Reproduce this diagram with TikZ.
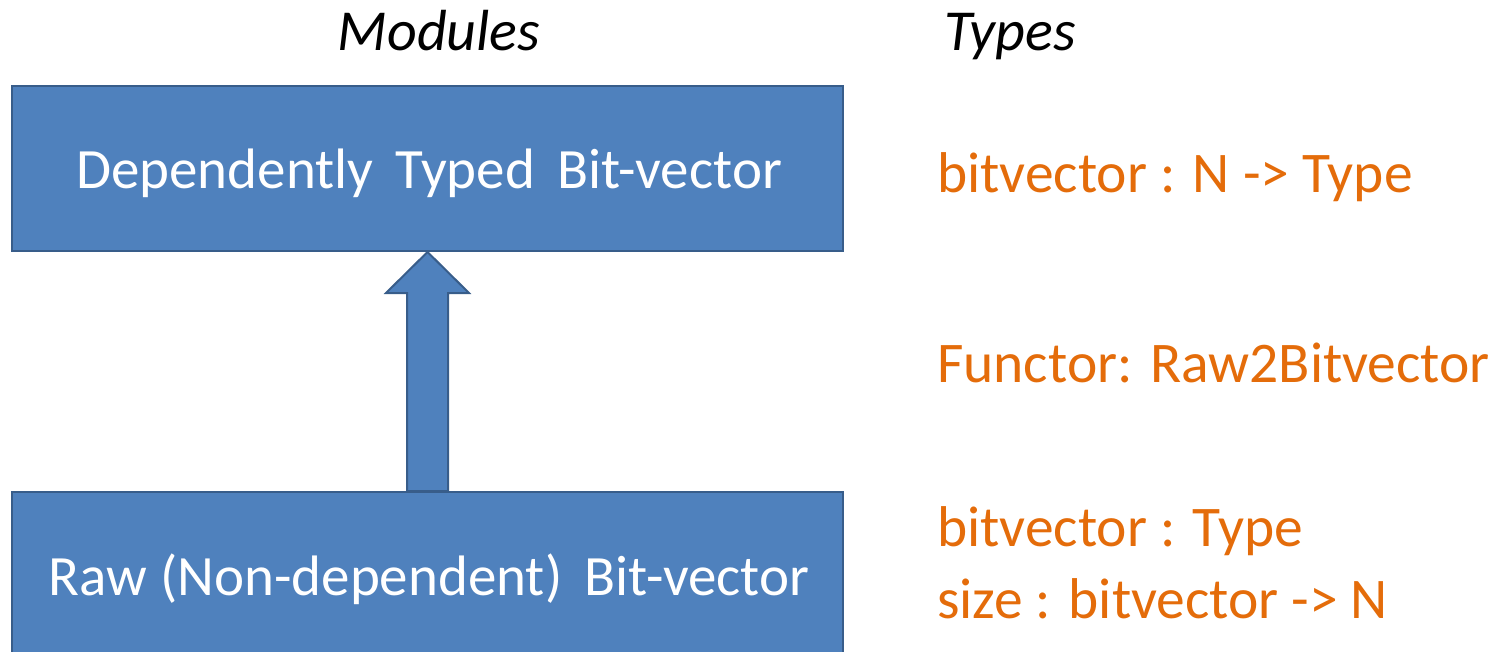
\documentclass[tikz,border=0pt]{standalone}
\usepackage{fontspec}
\setmainfont{Carlito}
\usetikzlibrary{calc}
\definecolor{boxfill}{HTML}{4F81BD}
\definecolor{boxline}{HTML}{385D8A}
\definecolor{typeorange}{HTML}{E46C0A}
\tikzset{
  module/.style={draw=boxline, line width=2pt, fill=boxfill, minimum width=831pt,
    minimum height=165pt, inner sep=0pt},
  boxtext/.style={anchor=base, inner sep=0pt, text=white,
    font=\fontsize{57}{68}\selectfont},
  heading/.style={anchor=base, inner sep=0pt, font=\fontsize{58}{69}\selectfont\itshape},
  typetext/.style={anchor=base west, inner sep=0pt, text=typeorange,
    font=\fontsize{57.5}{69}\selectfont},
  blockarrow/.style={draw=boxline, line width=2pt, fill=boxfill, line join=miter}
}
\begin{document}
\begin{tikzpicture}[x=1pt, y=-1pt]
\useasboundingbox (0,0) rectangle (1501,652);
\clip (0,0) rectangle (1501,652);

% column headings
\node[heading] (hmod) at (439,51) {Modules};
\node[heading] (htyp) at (1010,51) {Types};

% the two module boxes
\node[module] (dep) at (427.5,168.5) {};
\node[boxtext] (deptext) at (429,189) {Dependently\, Typed\, Bit-vector};
\node[module] (raw) at (427.5,574.5) {};
\node[boxtext] (rawtext) at (429,595) {Raw (Non-dependent)\, Bit-vector};

% block arrow from the raw module up to the dependent one
\coordinate (tip) at (dep.south);
\coordinate (foot) at (raw.north);
\path[blockarrow]
  ($(foot)+(-20.5,0)$) -- ($(tip)+(-20.5,41)$) -- ($(tip)+(-41.5,41)$) --
  (tip) -- ($(tip)+(41.5,41)$) -- ($(tip)+(20.5,41)$) -- ($(foot)+(20.5,0)$) -- cycle;

% types of each module and of the functor
\node[typetext] (t1) at (937,193) {bitvector : N -> Type};
\node[typetext] (t2) at (937,382) {Functor: Raw2Bitvector};
\node[typetext] (t3) at (937,546) {bitvector : Type};
\node[typetext] (t4) at (937,618) {size : bitvector -> N};
\end{tikzpicture}
\end{document}
